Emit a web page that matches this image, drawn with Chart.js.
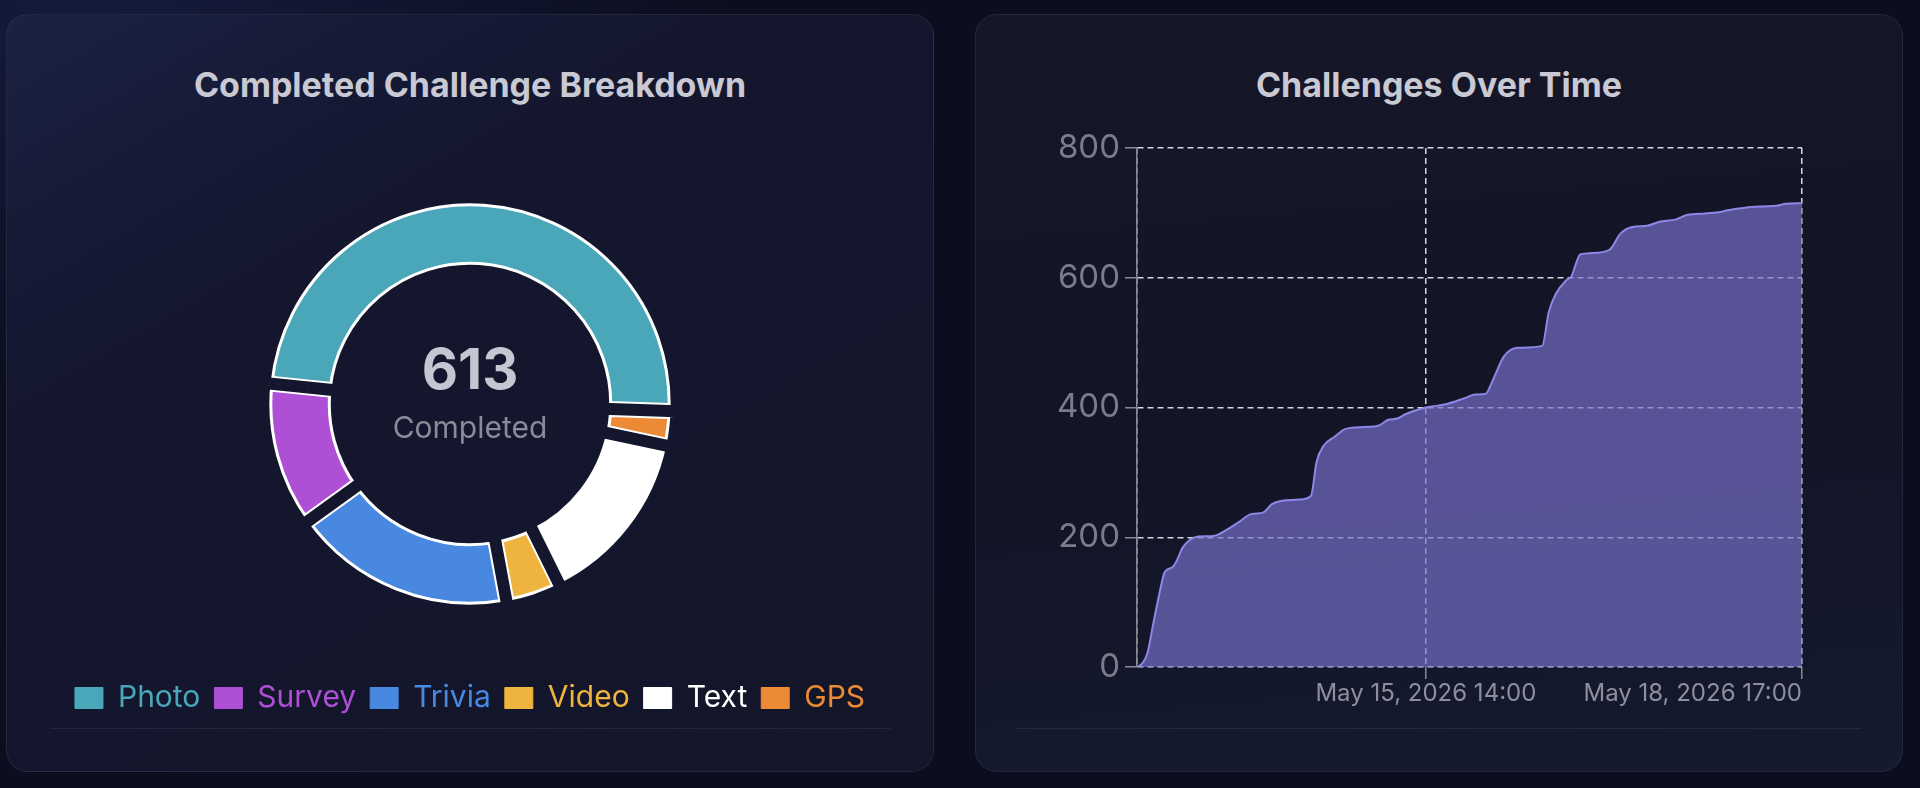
<!DOCTYPE html>
<html>
<head>
<meta charset="utf-8">
<script src="https://cdn.jsdelivr.net/npm/chart.js@4.4.1/dist/chart.umd.min.js"></script>
<style>
  html, body { margin: 0; padding: 0; width: 1920px; height: 788px; overflow: hidden; }
  body {
    position: relative;
    font-family: Inter, "Noto Sans", sans-serif;
    background: radial-gradient(ellipse 900px 600px at 5% 0%, #141b3c 0%, #0c0e1f 70%), #0c0e1f;
  }
  .card {
    position: absolute; top: 14px; width: 928px; height: 758px;
    box-sizing: border-box; border-radius: 22px;
    border: 1px solid rgba(255,255,255,0.07);
  }
  #cardLeft { left: 6px; background: linear-gradient(150deg, #1a2244 0%, #161a36 18%, #14162d 35%, #14162d 60%, #131528 100%); }
  #cardRight { left: 975px; background: linear-gradient(175deg, #151628 0%, #131426 55%, #151a2f 100%); }
  .title {
    position: absolute; top: 68px; height: 34px; line-height: 34px;
    width: 928px; text-align: center;
    font-size: 34px; font-weight: 700; color: #c8c9d3;
  }
  .divider { position: absolute; top: 728px; height: 1px; background: rgba(255,255,255,0.07); }
  .chartBox { position: absolute; }
  .centerText { position: absolute; left: 20px; width: 900px; text-align: center; pointer-events: none; }
</style>
</head>
<body>
<div class="card" id="cardLeft"></div>
<div class="card" id="cardRight"></div>
<div class="title" style="left:6px">Completed Challenge Breakdown</div>
<div class="title" style="left:975px">Challenges Over Time</div>
<div class="divider" style="left:50px;width:841px"></div>
<div class="divider" style="left:1016px;width:845px"></div>

<div class="chartBox" style="left:20px;top:139px;width:900px;height:584px"><canvas id="breakdownChart"></canvas></div>
<!-- same ring again on top, only to cut even gaps between the slices -->
<div class="chartBox" style="left:20px;top:139px;width:900px;height:530px;pointer-events:none"><canvas id="breakdownGaps"></canvas></div>
<div class="centerText" id="totalValue" style="top:341px;height:56px;line-height:56px;font-size:56px;font-weight:700;color:#c5c6d1"></div>
<div class="centerText" style="top:412px;height:30px;line-height:30px;font-size:30px;color:#8a8b98">Completed</div>

<div class="chartBox" style="left:1056px;top:120px;width:766px;height:597px"><canvas id="timelineChart"></canvas></div>

<script>
// completed challenges by type
const categories = ['Photo', 'Survey', 'Trivia', 'Video', 'Text', 'GPS'];
const completedCounts = [300, 71, 110, 27, 88, 17];
const typeColors = ['#4aa7b9', '#ae50d5', '#4888e0', '#efb43e', '#ffffff', '#ec8a36'];

// cumulative challenges, hours since first record
const hoursSinceStart = [0, 1.1, 2.1, 3.3, 4.6, 5.5, 7.1, 8.0, 9.1, 10.4, 12.2, 15.3, 18.0, 20.2, 22.9, 25.1, 26.9, 28.7, 32.3, 34.7,
  35.8, 37.2, 39.4, 41.6, 45.2, 48.1, 50.1, 51.9, 53.6, 57.6, 61.6, 65.2, 67.4, 69.5, 71.0, 73.1, 75.9, 80.8, 82.1, 83.5,
  85.7, 86.6, 88.4, 90.6, 94.2, 96.4, 98.6, 101.7, 104.0, 107.5, 109.8, 113.3, 116.0, 117.8, 121.3, 124.9, 127.6, 129.4, 132.6];
const cumulativeChallenges = [0, 6, 22, 69, 118, 146, 154, 165, 184, 195, 201, 202, 212, 223, 236, 238, 251, 256, 258, 264,
  316, 341, 355, 367, 370, 372, 381, 383, 390, 400, 405, 414, 420, 421, 443, 478, 492, 495, 547, 575,
  597, 602, 636, 638, 643, 668, 678, 680, 686, 690, 697, 699, 701, 704, 708, 710, 711, 714, 715];

const xTickHours = [0, 57.6, 132.6];
const xTickLabels = ['', 'May 15, 2026 14:00', 'May 18, 2026 17:00'];
const yTickStep = 200;

Chart.defaults.font.family = 'Inter, "Noto Sans", sans-serif';

const total = completedCounts.reduce((a, b) => a + b, 0);
document.getElementById('totalValue').textContent = total;

const cardBg = '#14162d';

// chart draws clockwise from 3 o'clock, so feed it reversed and flip the legend back
new Chart(document.getElementById('breakdownChart'), {
  type: 'doughnut',
  data: {
    labels: categories.slice().reverse(),
    datasets: [{
      data: completedCounts.slice().reverse(),
      backgroundColor: typeColors.slice().reverse(),
      borderColor: '#ffffff',
      borderWidth: 8,
      borderAlign: 'inner'
    }]
  },
  options: {
    responsive: true,
    maintainAspectRatio: false,
    animation: false,
    rotation: 92,
    radius: 206,
    cutout: '65%',
    plugins: {
      tooltip: { enabled: false },
      legend: {
        position: 'bottom',
        reverse: true,
        labels: {
          boxWidth: 28,
          boxHeight: 21,
          padding: 14,
          font: { size: 30 },
          generateLabels: function (chart) {
            const items = Chart.overrides.doughnut.plugins.legend.labels.generateLabels(chart);
            return items.map(function (item) {
              item.fontColor = item.fillStyle;
              item.strokeStyle = item.fillStyle;
              item.lineWidth = 1;
              return item;
            });
          }
        }
      }
    }
  }
});

// a hair bigger than the ring below so no white fringe shows at the rims
new Chart(document.getElementById('breakdownGaps'), {
  type: 'doughnut',
  data: {
    labels: categories.slice().reverse(),
    datasets: [{
      data: completedCounts.slice().reverse(),
      backgroundColor: 'rgba(0,0,0,0)',
      borderColor: cardBg,
      borderWidth: 6,
      borderAlign: 'inner'
    }]
  },
  options: {
    responsive: true,
    maintainAspectRatio: false,
    animation: false,
    events: [],
    rotation: 92,
    radius: 207,
    cutout: '64.2%',
    plugins: { tooltip: { enabled: false }, legend: { display: false } }
  }
});

const gridColor = '#d6d6e0';
const axisColor = '#8a8a94';

new Chart(document.getElementById('timelineChart'), {
  type: 'line',
  data: {
    datasets: [{
      data: hoursSinceStart.map((h, i) => ({ x: h, y: cumulativeChallenges[i] })),
      borderColor: '#8d88e6',
      borderWidth: 2,
      backgroundColor: 'rgba(120,114,204,0.68)',
      fill: 'origin',
      pointRadius: 0,
      cubicInterpolationMode: 'monotone'
    }]
  },
  options: {
    responsive: true,
    maintainAspectRatio: false,
    animation: false,
    layout: { padding: { top: 28, right: 20 } },
    plugins: { legend: { display: false }, tooltip: { enabled: false } },
    scales: {
      x: {
        type: 'linear',
        min: xTickHours[0],
        max: xTickHours[xTickHours.length - 1],
        afterBuildTicks: function (scale) {
          scale.ticks = xTickHours.map(v => ({ value: v }));
        },
        afterFit: function (scale) { scale.height = 50; },
        ticks: {
          align: 'inner',
          autoSkip: false,
          maxRotation: 0,
          padding: 0,
          color: '#8e8f9b',
          font: { size: 24 },
          callback: function (value, index) { return xTickLabels[index]; }
        },
        grid: {
          color: gridColor,
          lineWidth: 1.5,
          tickLength: 12,
          tickWidth: 1.5,
          tickColor: ctx => ctx.index === 0 ? 'rgba(0,0,0,0)' : axisColor
        },
        border: { display: false, dash: [6, 4] }
      },
      y: {
        min: 0,
        max: 800,
        afterFit: function (scale) { scale.width = 81; },
        ticks: {
          stepSize: yTickStep,
          padding: 5,
          color: '#7b7c88',
          font: { size: 33 }
        },
        grid: {
          color: gridColor,
          lineWidth: 1.5,
          tickLength: 12,
          tickWidth: 1.5,
          tickColor: axisColor
        },
        border: { display: true, color: axisColor, width: 1.5, dash: [6, 4] }
      }
    }
  }
});
</script>
</body>
</html>
